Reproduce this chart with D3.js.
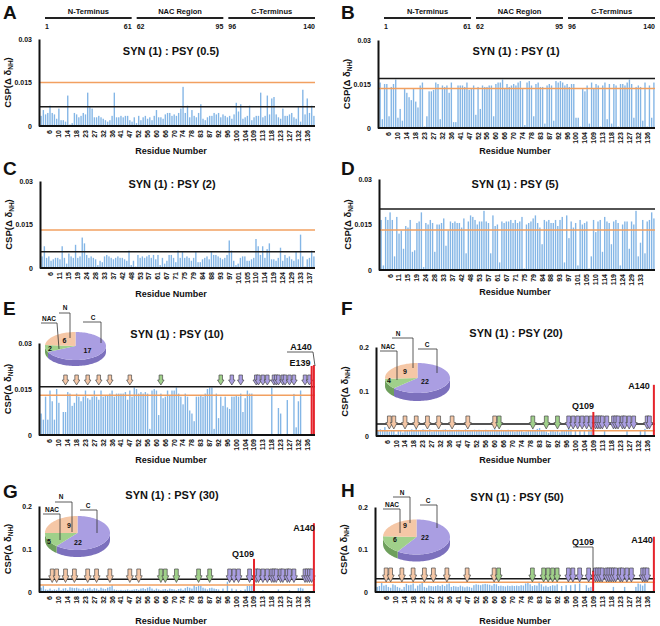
<!DOCTYPE html>
<html><head><meta charset="utf-8">
<script src="https://cdn.jsdelivr.net/npm/d3@7"></script>
<style>
body{margin:0;background:#fff}
svg{display:block}
text{font-family:"Liberation Sans",Arial,sans-serif;font-weight:bold;fill:#111}
</style>
</head><body>
<svg id="c" width="660" height="626"></svg>
<script>
// ---------------- DATA ----------------
const residuesA = [2,3,4,5,6,7,8,9,10,11,12,13,14,15,16,17,18,19,20,21,23,24,25,26,27,28,29,30,32,33,34,35,36,37,38,39,41,42,43,45,47,48,49,50,52,53,54,55,56,57,58,59,60,61,63,65,66,67,68,69,70,71,72,73,74,75,76,77,78,79,80,81,83,84,85,86,87,88,89,90,92,93,94,95,96,97,98,99,100,101,102,103,104,105,106,107,109,110,111,112,113,114,115,116,118,119,121,122,123,124,125,126,127,129,130,131,132,133,134,135,136,137,139,140];
const residuesC = [2,3,4,5,6,7,9,10,11,12,13,14,15,16,17,18,19,20,21,22,24,25,26,27,28,29,30,31,33,34,35,36,37,38,39,41,42,43,45,47,48,49,50,52,53,54,55,56,57,58,59,60,61,63,65,66,67,68,69,70,71,72,73,74,75,76,77,78,79,80,81,83,84,85,86,87,88,89,90,92,93,94,95,96,97,98,99,100,101,102,103,104,105,106,107,109,110,111,112,113,114,115,116,118,119,121,122,123,124,125,126,127,129,130,131,132,133,134,135,136,137,139,140];
const ticksA = [6,10,14,18,23,27,32,36,41,47,52,56,60,66,70,74,78,83,87,92,96,100,104,109,113,118,123,127,132,136];
const ticksC = [6,11,15,19,24,28,33,37,42,48,53,57,61,67,71,75,79,84,88,93,97,101,105,110,114,119,124,129,133,137];
const ticksD = [6,11,15,19,24,28,33,37,42,48,53,57,61,67,71,75,79,84,88,93,97,101,105,110,114,119,124,129,133];
const yTicksLow = [0,0.015,0.03];
const yTicksHigh = [0,0.1,0.2];

const domainNames = ["N-Terminus","NAC Region","C-Terminus"];
const domainStarts = [1,62,96];
const domainEnds = [61,95,140];

const titles = ["SYN (1) : PSY (0.5)","SYN (1) : PSY (1)","SYN (1) : PSY (2)","SYN (1) : PSY (5)","SYN (1) : PSY (10)","SYN (1) : PSY (20)","SYN (1) : PSY (30)","SYN (1) : PSY (50)"];

const valuesA = [.0035,.0055,.004,.0045,.007,.0045,.004,.0025,.006,.002,.002,.0015,.0105,.0005,.001,.0045,.004,.003,.0035,.0045,.004,.0115,.0065,.006,.003,.003,.0035,.003,.0025,.002,.0015,.002,.0035,.0115,.003,.003,.0035,.003,.0035,.0035,.002,.0015,.003,.001,.0035,.002,.003,.0035,.0025,.003,.002,.0035,.0055,.003,.003,.0025,.004,.0045,.0045,.0035,.004,.0035,.0045,.006,.0135,.0045,.007,.003,.0055,.0035,.003,.0045,.0075,.0025,.002,.003,.0035,.0035,.0045,.004,.0045,.003,.004,.0035,.003,.0035,.0025,.004,.008,.005,.0075,.0025,.003,.0035,.007,.002,.003,.0035,.0035,.0115,.003,.0035,.0105,.004,.0095,.010,.004,.003,.0025,.006,.0035,.0035,.004,.0045,.003,.0025,.0065,.0015,.0125,.004,.0095,.0045,.007,.0035];
const valuesB = [.0155,.003,.015,.015,.004,.014,.015,.0165,.0035,.0065,.0025,.0135,.012,.0105,.0095,.0135,.009,.007,.0145,.0155,.0005,.004,.0125,.0125,.013,.0155,.015,.003,.0145,.014,.0145,.012,.0155,.002,.002,.0145,.0145,.0145,.014,.0155,.013,.0135,.0145,.0045,.014,.0065,.0145,.014,.014,.0145,.0145,.004,.015,.0155,.0155,.0165,.0135,.015,.014,.0145,.015,.0145,.0155,.016,.0135,.001,.0155,.016,.0145,.004,.015,.0155,.014,.014,.0015,.0145,.015,.0145,.0025,.016,.0155,.016,.0155,.0145,.015,.014,.015,.015,.0035,.0035,.0005,.0135,.0125,.0145,.0015,.0155,.0135,.015,.0145,.0005,.0145,.0155,.003,.015,.0015,.015,.0145,.0005,.015,.015,.0145,.0155,.0165,.015,.0035,.014,.0145,.014,.0025,.0155,.0005,.0145,.0035,.0155];
const valuesC = [.004,.0075,.0035,.004,.0025,.003,.0035,.0035,.003,.0075,.0035,.0015,.005,.004,.0035,.008,.0035,.004,.0105,.0085,.0045,.0035,.004,.0035,.003,.001,.0025,.002,.004,.0045,.004,.0035,.003,.0035,.004,.0035,.0035,.003,.0025,.006,.001,.0025,.0005,.0045,.0035,.004,.0035,.004,.0045,.0035,.0045,.003,.0045,.001,.0035,.0015,.0025,.0045,.0045,.0035,.002,.006,.0035,.0055,.0035,.004,.0035,.0025,.0035,.0055,.002,.002,.003,.0035,.004,.003,.0055,.0045,.0045,.004,.0035,.003,.0035,.0045,.0095,.006,.0025,.001,.0015,.0035,.004,.004,.0025,.0025,.003,.0035,.010,.0075,.0045,.0075,.0035,.0065,.0085,.003,.003,.0025,.0035,.007,.0025,.0045,.0035,.004,.003,.0025,.0055,.003,.0115,.004,.0005,.003,.0035,.006,.004];
const valuesD = [.0165,.0015,.0175,.0165,.019,.0165,.0045,.0175,.012,.013,.007,.0145,.014,.0165,.006,.0065,.0155,.016,.019,.001,.0155,.015,.0165,.0155,.006,.015,.015,.0155,.017,.008,.013,.016,.0155,.016,.0155,.0155,.014,.017,.0055,.016,.018,.0175,.0165,.015,.016,.016,.0195,.016,.0155,.0055,.018,.0145,.015,.0025,.016,.0155,.016,.016,.0165,.0155,.0165,.0155,.016,.0175,.0005,.015,.0155,.016,.017,.018,.0155,.014,.0085,.0165,.016,.0165,.0155,.0155,.0165,.0145,.0165,.0175,.0025,.018,.0105,.016,.014,.0155,.0015,.0165,.015,.0155,.016,.0005,.0045,.0165,.0125,.016,.0165,.006,.0175,.016,.0155,.0085,.016,.0165,.0155,.0015,.015,.016,.016,.007,.016,.015,.0195,.0045,.009,.0165,.0055,.016,.0165,.019,.017];
const valuesE = [.007,.005,.0125,.005,.0145,.011,.005,.015,.0105,0,.0075,.0075,.014,.0135,.0095,.0105,.0135,.0125,.011,.0125,.0145,.012,.0115,.0125,.0145,.0125,.0115,.0145,.0125,.013,.013,.0135,.0145,.0125,.0135,.0135,.0135,.0135,.014,.0115,.0145,.0125,.0155,.015,.0135,.014,.0135,.014,.0135,.002,.0145,.015,.0145,.0065,.0135,.012,.0125,.0145,.013,.0145,.0145,.0155,.0135,.0125,.010,.0135,.0125,.008,.007,.0045,.0125,.0125,.013,.0125,.0135,.015,.0155,.0155,.002,.0135,.0055,.0125,.0095,.0125,.009,.0085,.0125,.0125,.013,.0125,.0135,.0075,.012,.0145,.0135,.0135,0,0,0,0,0,0,0,0,.0155,0,0,.0088,.007,0,0,.0114,0,0,.0134,.0025,.011,.0145,0,0,0,0,.0225,.0228];
const valuesF = [.012,.015,.012,.020,.012,.010,.013,.012,.004,.011,.013,.008,.012,.012,.013,.015,.012,.016,.013,.012,.015,.014,.013,.015,.010,.011,.014,.012,.013,.014,.015,.013,.014,.012,.011,.014,.014,.012,.013,.015,.013,.012,.012,.014,.013,.014,.012,.013,.014,.012,.011,.014,.015,.013,.012,.014,.013,.012,.014,.013,.012,.010,.013,.012,.011,.009,.010,.011,.012,.014,.013,.016,.018,.013,.012,.010,.007,.013,.012,.010,.013,.008,.012,.011,.014,.019,.016,0,.013,0,.012,0,.013,0,.015,.018,.054,0,0,0,0,.012,0,0,0,0,0,0,0,0,0,.011,0,0,0,0,0,.013,0,.016,0,0,0,.115];
const valuesG = [.010,.015,.006,.005,.008,.004,.006,.005,.010,.004,.008,.009,.005,.011,.010,.009,.010,.008,.006,.009,.007,.008,.010,.006,.009,.008,.005,.010,.008,.007,.010,.012,.016,.006,.005,.004,.005,.004,.005,.006,.004,.005,.006,.007,.005,.008,.009,.007,.010,.012,.008,.005,.008,.006,.004,.006,.007,.005,.008,.007,.006,.004,.007,.008,.005,.009,.012,.010,.008,.016,.012,.015,.015,.010,.008,.006,.009,.010,.008,.007,.006,0,.008,0,.024,0,.008,0,.006,0,.004,0,.006,.014,.015,.018,.077,0,0,0,.004,0,0,0,0,0,0,.006,0,0,0,0,.004,0,0,0,.009,.010,.008,0,0,0,0,.160];
const valuesH = [.012,.014,.022,.015,.017,.012,.010,.018,.016,.012,.010,.006,.012,.019,.016,.017,.020,.008,.015,.018,.022,.012,.010,.015,.014,.013,.014,.016,.014,.017,.014,.018,.020,.012,.014,.013,.012,.015,.013,.011,.013,.012,.010,.016,.018,.017,.016,.018,.019,.018,.017,.015,.019,.018,.014,.015,.014,.013,.015,.014,.015,.014,.015,.014,.016,.015,.020,.024,.018,.014,.016,.015,.024,.018,.013,.015,.012,.014,.016,.015,.018,0,.014,0,.016,0,.016,0,.018,0,.020,0,0,.016,.010,.012,.050,0,0,0,0,0,0,0,0,.012,0,0,0,0,.012,0,0,0,0,.012,.020,.018,.015,.020,0,0,0,.130];

const orangeLines = [.015,.0135,.0131,.0132,.013,.012,.016,.023];
const blackLines  = [.0066,.0169,.0056,.0201,.0157,.027,.0295,.031];

// red (saturated) residues, labels
const redE = [139,140], redF = [109,140], redG = [109,140], redH = [109,140];

// arrows (residue positions) by region
const arrowsE = {N:[13,18,24,29,35,47], NAC:[63,93], C:[98,102,110,111,113,115,119,121,122,124,125,127,130,135,137]};
const arrowsF = {N:[7,9,14,19,25,30,37,47,60], NAC:[63,79,86,92], C:[97,99,101,103,105,107,110,111,112,113,115,119,121,122,124,125,127,130,136,137]};
const arrowsG = {N:[7,9,13,17,24,28,35,47,52], NAC:[63,66,71,81,87], C:[97,99,101,106,110,111,113,115,118,119,121,123,124,126,127,130,135,136,137,139]};
const arrowsH = {N:[6,8,13,18,24,28,35,47,60], NAC:[63,79,85,87,89,92], C:[97,99,102,106,110,111,112,113,115,116,118,119,121,123,124,126,129,134,135,136]};

// pie counts [C, NAC, N]
const pieLabels = ["C","NAC","N"];
const pieE = [17,2,6], pieF = [22,4,9], pieG = [22,5,9], pieH = [22,6,9];

// ---------------- STYLE ----------------
const BAR = "#84b6e6", ORANGE = "#f2a060", BLACK = "#1a1a1a", RED = "#e5232b";
const TOP = {C:"#aa9ee2", NAC:"#a0d08a", N:"#f5c7a6"};
const SIDE = {C:"#7c70bd", NAC:"#6e9f5c", N:"#d8a582"};

const svg = d3.select("#c");

// ---------------- PANELS ----------------
const panels = [
 {L:"A", res:residuesA, ticks:ticksA, vals:valuesA, yMax:.03, yt:yTicksLow, x0:39, x1:315, yT:39, y0:126, let:[3,19], tt:[171,55], xl:[171,154], header:true},
 {L:"B", res:residuesA, ticks:ticksA, vals:valuesB, yMax:.03, yt:yTicksLow, x0:378, x1:655, yT:40, y0:128, let:[341,19], tt:[516,55], xl:[515,154], header:true},
 {L:"C", res:residuesC, ticks:ticksC, vals:valuesC, yMax:.03, yt:yTicksLow, x0:40, x1:315, yT:181, y0:268, let:[3,175], tt:[172,188], xl:[171,297]},
 {L:"D", res:residuesC, ticks:ticksD, vals:valuesD, yMax:.03, yt:yTicksLow, x0:379, x1:655, yT:179, y0:270, let:[341,175], tt:[515,188], xl:[515,295]},
 {L:"E", res:residuesA, ticks:ticksA, vals:valuesE, yMax:.03, yt:yTicksLow, x0:39, x1:315, yT:343, y0:435, let:[3,315], tt:[177,338], xl:[171,463],
   red:redE, arrows:arrowsE, arrowTop:375, arrowW:6.5, arrowH:10, pie:pieE,
   pg:{cx:75.5, cy:346, rx:30.5, ry:14, d:6,
       lab:{N:[[65,310],[59,313,70,313,70,338]], NAC:[[49,321],[41,323,57,323,59,349]], C:[[93,320],[83,322,101,322,101,343]]},
       num:{N:[64.5,343], NAC:[50,351], C:[87.5,353]}},
   notes:[{t:"A140", x:301, y:350, line:[287,352,313,352,315,366]}, {t:"E139", x:300, y:366}]},
 {L:"F", res:residuesA, ticks:ticksA, vals:valuesF, yMax:.2, yt:yTicksHigh, x0:376, x1:655, yT:347, y0:436, let:[341,315], tt:[516,337], xl:[515,463],
   red:redF, arrows:arrowsF, arrowTop:416, arrowW:7, arrowH:13, pie:pieF,
   pg:{cx:417.5, cy:378, rx:32.5, ry:15, d:8,
       lab:{N:[[398,336],[392,338,413,338,413,368]], NAC:[[388,349],[380,351,397,351,397,380]], C:[[427,347],[418,349,437,349,437,373]]},
       num:{N:[405,374], NAC:[389,383], C:[425,384]}},
   notes:[{t:"Q109", x:583, y:409}, {t:"A140", x:639, y:389}]},
 {L:"G", res:residuesA, ticks:ticksA, vals:valuesG, yMax:.2, yt:yTicksHigh, x0:39, x1:315, yT:506, y0:592, let:[3,498], tt:[172,499], xl:[171,624],
   red:redG, arrows:arrowsG, arrowTop:569, arrowW:7, arrowH:13.5, pie:pieG,
   pg:{cx:77.5, cy:533, rx:32.5, ry:17, d:7,
       lab:{N:[[61,499],[55,502,72,502,72,532]], NAC:[[52,512],[43,514,60,514,60,540]], C:[[88,508],[80,510,97,510,97,533]]},
       num:{N:[69,528], NAC:[49,544], C:[78,545]}},
   notes:[{t:"Q109", x:243, y:557}, {t:"A140", x:304, y:531}]},
 {L:"H", res:residuesA, ticks:ticksA, vals:valuesH, yMax:.2, yt:yTicksHigh, x0:375, x1:655, yT:507, y0:592, let:[341,497], tt:[517,501], xl:[515,624],
   red:redH, arrows:arrowsH, arrowTop:568, arrowW:7, arrowH:14, pie:pieH,
   pg:{cx:416.5, cy:537, rx:33.5, ry:17.5, d:7,
       lab:{N:[[402,495],[393,497,410,497,410,523]], NAC:[[392,507],[383,509,400,509,400,533]], C:[[428,503],[420,505,437,505,437,528]]},
       num:{N:[405,528], NAC:[395,542], C:[425,540]}},
   notes:[{t:"Q109", x:583, y:545, line:[573,547,593,547,593,572]}, {t:"A140", x:642, y:543}]}
];

const fmtY = v => v === 0 ? "0" : String(v);

function arrowPath(cx, ty, w, h) {
  const s = w * 0.27, m = ty + h * 0.5;
  return `M${cx-s},${ty}L${cx+s},${ty}L${cx+s},${m}L${cx+w/2},${m}L${cx},${ty+h}L${cx-w/2},${m}L${cx-s},${m}Z`;
}

function drawPie(g, counts, pg) {
  const arcs = d3.pie().sort(null)(counts);
  const P = (a, dy=0) => [pg.cx + pg.rx * Math.sin(a), pg.cy - pg.ry * Math.cos(a) + dy];
  const pts = (a, b, dy) => { const n = Math.max(2, Math.ceil((b - a) / 0.05)); return d3.range(n + 1).map(i => P(a + (b - a) * i / n, dy)); };
  // side wall (front half)
  arcs.forEach((d, i) => {
    const a = Math.max(d.startAngle, Math.PI / 2), b = Math.min(d.endAngle, 3 * Math.PI / 2);
    if (b <= a) return;
    const top = pts(a, b, 0), bot = pts(a, b, pg.d).reverse();
    g.append("path").attr("d", "M" + top.concat(bot).map(p => p.join(",")).join("L") + "Z")
      .attr("fill", SIDE[pieLabels[i]]);
  });
  arcs.forEach((d, i) => {
    const p = pts(d.startAngle, d.endAngle, 0);
    g.append("path").attr("d", `M${pg.cx},${pg.cy}L` + p.map(q => q.join(",")).join("L") + "Z")
      .attr("fill", TOP[pieLabels[i]]);
  });
  pieLabels.forEach((k, i) => {
    const [tp, ln] = pg.lab[k];
    g.append("text").attr("x", tp[0]).attr("y", tp[1]).attr("text-anchor", "middle").attr("font-size", "6.5px").text(k);
    g.append("polyline").attr("points", `${ln[0]},${ln[1]} ${ln[2]},${ln[3]} ${ln[4]},${ln[5]}`)
      .attr("fill", "none").attr("stroke", "#333").attr("stroke-width", 0.8);
    g.append("text").attr("x", pg.num[k][0]).attr("y", pg.num[k][1]).attr("text-anchor", "middle").attr("font-size", "7px").text(counts[i]);
  });
}

panels.forEach((p, pi) => {
  const g = svg.append("g");
  const x = d3.scaleBand().domain(p.res).range([p.x0 + 1, p.x1]).padding(0);
  const bw = x.bandwidth();
  const y = d3.scaleLinear().domain([0, p.yMax]).range([p.y0, p.yT]);
  const red = new Set(p.red || []);

  // letter + title
  g.append("text").attr("x", p.let[0]).attr("y", p.let[1]).attr("font-size", "19px").text(p.L);
  g.append("text").attr("x", p.tt[0]).attr("y", p.tt[1]).attr("text-anchor", "middle").attr("font-size", "11px").text(titles[pi]);

  // header domains
  if (p.header) {
    const hx0 = p.x0 + 6, gap = 5, segW = (p.x1 - hx0 - 2 * gap) / 3;
    domainNames.forEach((nm, i) => {
      const sx = hx0 + i * (segW + gap), ex = sx + segW;
      g.append("line").attr("x1", sx).attr("x2", ex).attr("y1", 18).attr("y2", 18).attr("stroke", "#222").attr("stroke-width", 2);
      g.append("text").attr("x", (sx + ex) / 2).attr("y", 14).attr("text-anchor", "middle").attr("font-size", "7.5px").text(nm);
      g.append("text").attr("x", sx).attr("y", 28.5).attr("font-size", "7px").text(domainStarts[i]);
      g.append("text").attr("x", ex).attr("y", 28.5).attr("text-anchor", "end").attr("font-size", "7px").text(domainEnds[i]);
    });
  }

  // bars
  const data = p.res.map((r, i) => ({r, v: p.vals[i] || 0}));
  g.append("g").selectAll("rect").data(data.filter(d => d.v > 0 && !red.has(d.r))).join("rect")
    .attr("x", d => x(d.r) + bw * 0.2).attr("width", bw * 0.62)
    .attr("y", d => y(d.v)).attr("height", d => p.y0 - y(d.v)).attr("fill", BAR);

  // threshold lines
  g.append("line").attr("x1", p.x0).attr("x2", p.x1).attr("y1", y(orangeLines[pi])).attr("y2", y(orangeLines[pi]))
    .attr("stroke", ORANGE).attr("stroke-width", 1.5);
  g.append("line").attr("x1", p.x0).attr("x2", p.x1).attr("y1", y(blackLines[pi])).attr("y2", y(blackLines[pi]))
    .attr("stroke", BLACK).attr("stroke-width", 1.5);

  // arrows
  if (p.arrows) {
    ["N", "NAC", "C"].forEach(k => {
      g.append("g").selectAll("path").data(p.arrows[k].filter(r => x(r) !== undefined)).join("path")
        .attr("d", r => arrowPath(x(r) + bw / 2, p.arrowTop, p.arrowW, p.arrowH))
        .attr("fill", TOP[k]).attr("stroke", "#4a4a4a").attr("stroke-width", 0.7);
    });
  }

  // red saturated bars
  g.append("g").selectAll("rect").data(data.filter(d => d.v > 0 && red.has(d.r))).join("rect")
    .attr("x", d => x(d.r) + bw / 2 - 1).attr("width", 2)
    .attr("y", d => y(d.v)).attr("height", d => p.y0 - y(d.v)).attr("fill", RED);

  // axes
  const ya = g.append("g").attr("transform", `translate(${p.x0},0)`)
    .call(d3.axisLeft(y).tickValues(p.yt).tickSize(0).tickPadding(7).tickFormat(fmtY));
  ya.select(".domain").attr("stroke", "#111").attr("stroke-width", 2);
  ya.selectAll("text").attr("font-size", "7px").attr("font-family", null);

  const xa = g.append("g").attr("transform", `translate(0,${p.y0})`)
    .call(d3.axisBottom(x).tickValues(p.ticks).tickSize(0).tickSizeOuter(0));
  xa.select(".domain").attr("stroke", "#111").attr("stroke-width", 2).attr("d", `M${p.x0},0H${p.x1}`);
  xa.selectAll("text").attr("font-size", "7px").attr("font-family", null)
    .attr("transform", "rotate(-90)").attr("text-anchor", "end")
    .attr("x", -4).attr("y", 0).attr("dy", "0.35em");

  // y title
  const yl = g.append("text").attr("text-anchor", "middle").attr("font-size", "9.5px")
    .attr("transform", `translate(${p.x0 - 28},${(p.yT + p.y0) / 2}) rotate(-90)`);
  yl.append("tspan").text("CSP(\u0394 \u03b4");
  yl.append("tspan").attr("font-size", "6.5px").attr("dy", 2).text("NH");
  yl.append("tspan").attr("dy", -2).text(")");

  // x title
  g.append("text").attr("x", p.xl[0]).attr("y", p.xl[1]).attr("text-anchor", "middle").attr("font-size", "9px").text("Residue Number");

  // notes
  (p.notes || []).forEach(n => {
    g.append("text").attr("x", n.x).attr("y", n.y).attr("text-anchor", "middle").attr("font-size", "9px").text(n.t);
    if (n.line) g.append("polyline").attr("points", `${n.line[0]},${n.line[1]} ${n.line[2]},${n.line[3]} ${n.line[4]},${n.line[5]}`)
      .attr("fill", "none").attr("stroke", "#333").attr("stroke-width", 0.8);
  });

  // pie
  if (p.pie) drawPie(g.append("g"), p.pie, p.pg);
});
</script>
</body></html>
